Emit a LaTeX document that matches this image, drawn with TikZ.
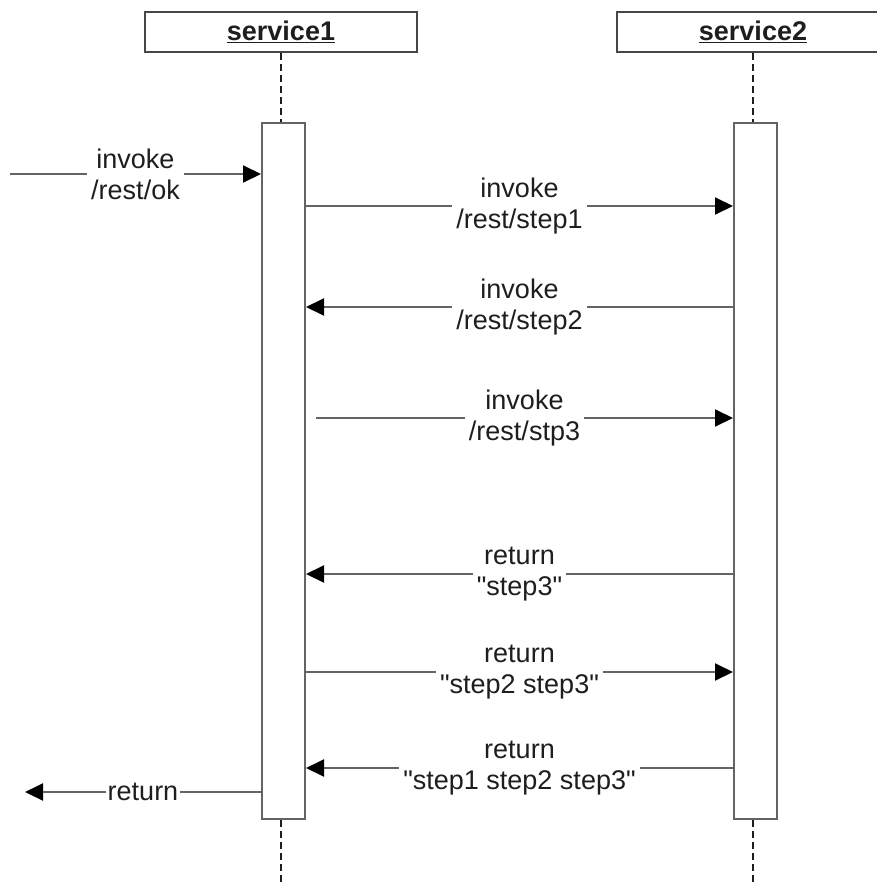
\documentclass[tikz,border=0pt]{standalone}
\usepackage{fontspec}
\setmainfont{Liberation Sans}[Ligatures=TeXOff]
\usepackage{tikz}
\usetikzlibrary{arrows.meta,positioning,calc}
\definecolor{linegray}{RGB}{100,100,100}
\definecolor{boxedge}{RGB}{70,70,70}
\definecolor{textdark}{RGB}{30,30,30}

\begin{document}
\begin{tikzpicture}[
      x=1pt, y=-1pt,
      headbox/.style={rectangle, draw=boxedge, fill=white, line width=2pt,
                      minimum width=272pt, minimum height=40pt, inner sep=0pt,
                      font=\fontsize{27}{31}\selectfont\bfseries, text=textdark},
      actbox/.style={rectangle, draw=linegray, fill=white, line width=2pt,
                     minimum width=43pt, minimum height=696pt, inner sep=0pt},
      lifeline/.style={draw=textdark, line width=1.5pt, dash pattern=on 7pt off 4pt},
      msg/.style={draw=linegray, line width=2pt,
                  -{Triangle[length=18pt,width=17pt,color=black]}},
      lbl/.style={fill=white, inner sep=4pt, align=center, text=textdark,
                  font=\fontsize{27}{31}\selectfont}
    ]
      \useasboundingbox (0,0) rectangle (877,886);
      \clip (0,0) rectangle (877,886);
      %% participants
      \node[headbox] (svc1) at (281,32) {\underline{service1}};
      \node[headbox] (svc2) at (753,32) {\underline{service2}};
      \node[actbox] (act1) at (283.5,471) {};
      \node[actbox] (act2) at (755.5,471) {};
      \coordinate (low1) at (281,886);
      \coordinate (low2) at (753,886);
      \draw[lifeline] (svc1.south) -- (svc1.south |- act1.north);
      \draw[lifeline] (svc2.south) -- (svc2.south |- act2.north);
      \draw[lifeline] (act1.south -| low1) -- (low1);
      \draw[lifeline] (act2.south -| low2) -- (low2);
      %% message rows
      \coordinate (m1) at (0,174);
      \coordinate (m2) at (0,206);
      \coordinate (m3) at (0,307);
      \coordinate (m4) at (0,418);
      \coordinate (m5) at (0,574);
      \coordinate (m6) at (0,672);
      \coordinate (m7) at (0,768);
      \coordinate (m8) at (0,792);
      \coordinate (caller) at (10,174);
      \coordinate (back) at (25,792);
      %% calls
      \draw[msg] (caller) -- (act1.west |- m1)
          node[lbl, midway] {invoke\\/rest/ok};
      \draw[msg] (act1.east |- m2) -- (act2.west |- m2)
          node[lbl, midway] {invoke\\/rest/step1};
      \draw[msg] (act2.west |- m3) -- (act1.east |- m3)
          node[lbl, midway] {invoke\\/rest/step2};
      \draw[msg] ($(act1.east |- m4)+(10,0)$) -- (act2.west |- m4)
          node[lbl, midway] {invoke\\/rest/stp3};
      %% returns
      \draw[msg] (act2.west |- m5) -- (act1.east |- m5)
          node[lbl, midway] {return\\"step3"};
      \draw[msg] (act1.east |- m6) -- (act2.west |- m6)
          node[lbl, midway] {return\\"step2 step3"};
      \draw[msg] (act2.west |- m7) -- (act1.east |- m7)
          node[lbl, midway] {return\\"step1 step2 step3"};
      \draw[msg] (act1.west |- m8) -- (back)
          node[lbl, midway, inner sep=2pt] {return};
    \end{tikzpicture}
\end{document}
